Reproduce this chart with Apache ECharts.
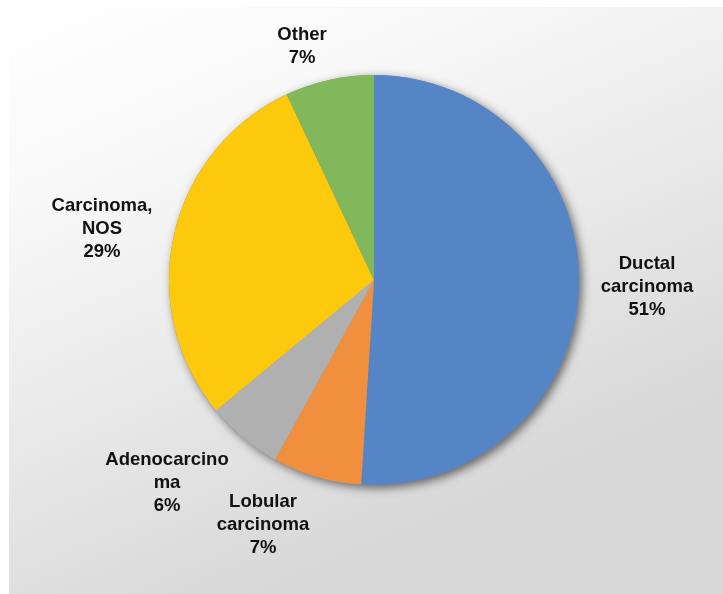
<!DOCTYPE html>
<html>
<head>
<meta charset="utf-8">
<script src="https://cdn.jsdelivr.net/npm/echarts@6/dist/echarts.min.js"></script>
<style>
html,body{margin:0;padding:0;background:#fff;}
#chart{width:723px;height:594px;}
</style>
</head>
<body>
<div id="chart"></div>
<script>
const categories = ['Ductal\ncarcinoma', 'Lobular\ncarcinoma', 'Adenocarcino\nma', 'Carcinoma,\nNOS', 'Other'];
const values = [51, 7, 6, 29, 7];
const colors = ['#5585c5', '#f0903f', '#b0b0b0', '#fcc90d', '#80b85b'];
const labelPos = [[647, 287], [263, 525], [167, 483], [102, 229], [302, 46]];

const chart = echarts.init(document.getElementById('chart'), null, {renderer: 'canvas'});
chart.setOption({
  backgroundColor: 'transparent',
  animation: false,
  graphic: [{
    type: 'rect',
    z: -10,
    silent: true,
    shape: {x: 9, y: 7, width: 714, height: 587},
    style: {
      fill: new echarts.graphic.LinearGradient(0, 0, 0.35, 1, [
        {offset: 0, color: '#ffffff'},
        {offset: 0.3, color: '#f8f8f8'},
        {offset: 1, color: '#d8d8d8'}
      ])
    }
  }],
  series: [
    {
      type: 'pie',
      silent: true,
      center: [374, 280],
      radius: [0, 205],
      label: {show: false},
      labelLine: {show: false},
      z: 1,
      itemStyle: {
        color: '#888',
        shadowBlur: 10,
        shadowColor: 'rgba(0,0,0,0.55)',
        shadowOffsetX: 3,
        shadowOffsetY: 3
      },
      data: [{value: 1, name: 'bg'}]
    },
    {
      type: 'pie',
      center: [374, 280],
      radius: [0, 205],
      startAngle: 90,
      clockwise: true,
      z: 2,
      itemStyle: {borderWidth: 0},
      label: {
        show: true,
        position: 'outside',
        formatter: p => p.name + '\n' + p.value + '%',
        fontFamily: '"Liberation Sans", Arial, sans-serif',
        fontWeight: 'bold',
        fontSize: 18.5,
        lineHeight: 23,
        color: '#111',
        align: 'center',
        overflow: 'none',
        width: 200
      },
      labelLine: {show: false},
      labelLayout: function (params) {
        const pos = labelPos[params.dataIndex];
        return {x: pos[0], y: pos[1], align: 'center', verticalAlign: 'middle'};
      },
      data: categories.map((c, i) => ({name: c, value: values[i], itemStyle: {color: colors[i]}}))
    }
  ]
});
</script>
</body>
</html>
